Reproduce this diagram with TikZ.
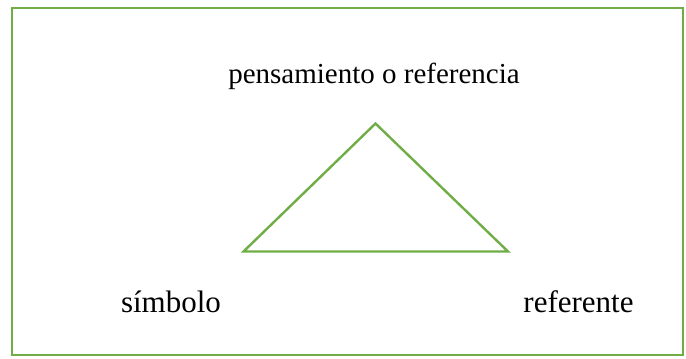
\documentclass[tikz,border=0pt]{standalone}
\usepackage{fontspec}
\setmainfont{Liberation Serif}
\usepackage{tikz}
\usetikzlibrary{positioning}
\usetikzlibrary{calc}
\definecolor{ofgreen}{RGB}{112,173,71}

\begin{document}
\begin{tikzpicture}[x=1pt,y=-1pt]
		\useasboundingbox (0,0) rectangle (686,359);
		\draw[ofgreen,line width = 2.4pt] (12,8) rectangle (683,355);

		\coordinate (top) at (375.5,123.5);
		\coordinate (bl) at (243.5,251.5);
		\coordinate (br) at (508,251.5);
		\draw[ofgreen,line width = 2.4pt,line join = miter] (top) -- (bl) -- (br) -- cycle;

		\node[font = \fontsize{29}{34}\selectfont] at (374,76) (pens) {pensamiento o referencia};
		\node[font = \fontsize{31}{36}\selectfont] at (171,302) (simb) {símbolo};
		\node[font = \fontsize{31}{36}\selectfont] at (578.5,302) (refe) {referente};
	\end{tikzpicture}
\end{document}
